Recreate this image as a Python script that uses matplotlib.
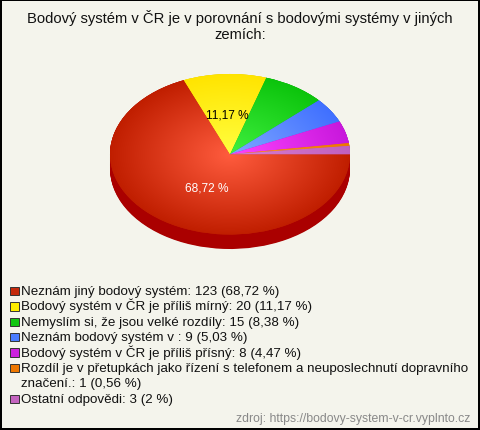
import numpy as np
import matplotlib
matplotlib.use("Agg")
import matplotlib.pyplot as plt
from matplotlib.patches import Rectangle
from matplotlib.colors import to_rgb

plt.rcParams['font.family'] = ['Liberation Sans', 'DejaVu Sans']

title = "Bodový systém v ČR je v porovnání s bodovými systémy v jiných\nzemích:"
categories = [
    "Neznám jiný bodový systém",
    "Bodový systém v ČR je příliš mírný",
    "Nemyslím si, že jsou velké rozdíly",
    "Neznám bodový systém v ",
    "Bodový systém v ČR je příliš přísný",
    "Rozdíl je v přetupkách jako řízení s telefonem a neuposlechnutí dopravního\nznačení.",
    "Ostatní odpovědi",
]
values = [123, 20, 15, 9, 8, 1, 3]
pct_labels = ["68,72 %", "11,17 %", "8,38 %", "5,03 %", "4,47 %", "0,56 %", "2 %"]
legend_colors = ["#c42a0c", "#ffee00", "#11c611", "#4a7cff", "#cc22dd", "#ee7700", "#c464c0"]
center_colors = ["#ff5c3e", "#ffff40", "#40f040", "#80a8ff", "#ff44ff", "#ff9a30", "#d880d0"]
edge_colors = ["#c01e00", "#ffe400", "#0cc40c", "#4070ff", "#c818dc", "#ee7700", "#c060c0"]
side_colors = ["#aa0000", "#c8b000", "#089008", "#2850c0", "#9010a8", "#b05000", "#904890"]
source = "zdroj: https://bodovy-system-v-cr.vyplnto.cz"

W, H = 480, 431
fig = plt.figure(figsize=(W / 100, H / 100), dpi=100)
bg = "#f4f4ec"
fig.patch.set_facecolor(bg)
fig.patch.set_edgecolor("black")
fig.patch.set_linewidth(1.5)

# pie axes (ellipse produced by axes scaling)
depth = 0.18
ax = fig.add_axes([110 / W, 1 - 250 / H, 240 / W, 175 / H])
ax.set_facecolor("none")

nl = 24
for t in np.linspace(depth, 0.0, nl):
    ax.pie(values, colors=side_colors, startangle=0, counterclock=False,
           center=(0, -t), radius=1.0, wedgeprops=dict(linewidth=0))

wedges, _ = ax.pie(values, colors=edge_colors, startangle=0, counterclock=False,
                   radius=1.0, wedgeprops=dict(linewidth=0))

# radial gradients on top surface
n = 300
xx, yy = np.meshgrid(np.linspace(-1, 1, n), np.linspace(1, -1, n))
rr = np.clip(np.sqrt(xx ** 2 + yy ** 2), 0, 1)[..., None]
for w, c0, c1 in zip(wedges, center_colors, edge_colors):
    a = np.array(to_rgb(c0)); b = np.array(to_rgb(c1))
    img = a * (1 - rr) + b * rr
    im = ax.imshow(img, extent=(-1, 1, -1, 1), aspect="auto", zorder=2,
                   interpolation="bilinear")
    im.set_clip_path(w)

# percentage labels for large slices
total = sum(values)
ang = 0.0
for v, lab in zip(values, pct_labels):
    span = 360.0 * v / total
    mid = np.deg2rad(ang - span / 2)
    if v / total > 0.1:
        col = "white" if lab.startswith("68") else "black"
        r = 0.5
        ax.text(r * np.cos(mid) + (0.08 if col == "white" else 0.0), r * np.sin(mid),
                lab, ha="center", va="center", fontsize=8.6, color=col, zorder=5)
    ang -= span

ax.set_xlim(-1, 1)
ax.set_ylim(-1 - depth, 1)
ax.axis("off")

# title
fig.text(0.5, 1 - 26 / H, title, ha="center", va="center", fontsize=10.6,
         linespacing=1.15, color="#111111")

# legend (manual)
y = 294.8
step = 15.45
for cat, v, lab, col in zip(categories, values, pct_labels, legend_colors):
    text = f"{cat}: {v} ({lab})"
    lines = text.split("\n")
    fig.patches.append(Rectangle((10 / W, 1 - (y + 1.3) / H), 8.5 / W, 8.5 / H,
                                 transform=fig.transFigure, facecolor=col,
                                 edgecolor="#333333", linewidth=0.7))
    for i, ln in enumerate(lines):
        fig.text(21 / W, 1 - (y + i * step) / H, ln,
                 ha="left", va="baseline", fontsize=9.65, color="#111111")
    y += step * len(lines)

fig.text(470 / W, 1 - 422.5 / H, source, ha="right", va="baseline",
         fontsize=8.85, color="#888888")

fig.savefig("out.png", dpi=100, facecolor=fig.get_facecolor(),
            edgecolor=fig.get_edgecolor())
